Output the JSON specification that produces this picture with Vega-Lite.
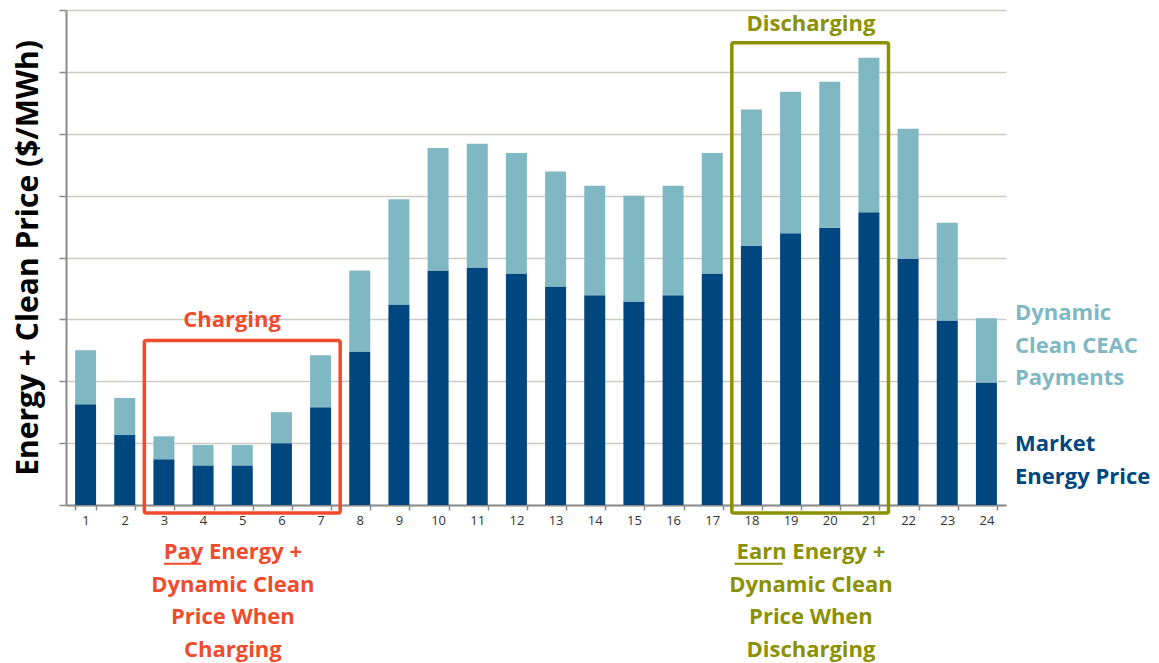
{
  "$schema": "https://vega.github.io/schema/vega-lite/v6.json",
  "autosize": "none",
  "width": 940,
  "height": 495,
  "padding": {"left": 66, "top": 10, "right": 153, "bottom": 158},
  "background": "white",
  "config": {
    "view": {"stroke": null},
    "font": "Open Sans",
    "text": {"font": "Open Sans"}
  },
  "datasets": {
    "bars": [
      {"hour": 1, "series": "Market Energy Price", "value": 1.63}, {"hour": 1, "series": "Dynamic Clean CEAC Payments", "value": 0.87},
      {"hour": 2, "series": "Market Energy Price", "value": 1.13}, {"hour": 2, "series": "Dynamic Clean CEAC Payments", "value": 0.60},
      {"hour": 3, "series": "Market Energy Price", "value": 0.74}, {"hour": 3, "series": "Dynamic Clean CEAC Payments", "value": 0.37},
      {"hour": 4, "series": "Market Energy Price", "value": 0.64}, {"hour": 4, "series": "Dynamic Clean CEAC Payments", "value": 0.33},
      {"hour": 5, "series": "Market Energy Price", "value": 0.64}, {"hour": 5, "series": "Dynamic Clean CEAC Payments", "value": 0.33},
      {"hour": 6, "series": "Market Energy Price", "value": 1.00}, {"hour": 6, "series": "Dynamic Clean CEAC Payments", "value": 0.50},
      {"hour": 7, "series": "Market Energy Price", "value": 1.58}, {"hour": 7, "series": "Dynamic Clean CEAC Payments", "value": 0.84},
      {"hour": 8, "series": "Market Energy Price", "value": 2.48}, {"hour": 8, "series": "Dynamic Clean CEAC Payments", "value": 1.31},
      {"hour": 9, "series": "Market Energy Price", "value": 3.24}, {"hour": 9, "series": "Dynamic Clean CEAC Payments", "value": 1.70},
      {"hour": 10, "series": "Market Energy Price", "value": 3.79}, {"hour": 10, "series": "Dynamic Clean CEAC Payments", "value": 1.98},
      {"hour": 11, "series": "Market Energy Price", "value": 3.84}, {"hour": 11, "series": "Dynamic Clean CEAC Payments", "value": 2.00},
      {"hour": 12, "series": "Market Energy Price", "value": 3.74}, {"hour": 12, "series": "Dynamic Clean CEAC Payments", "value": 1.95},
      {"hour": 13, "series": "Market Energy Price", "value": 3.53}, {"hour": 13, "series": "Dynamic Clean CEAC Payments", "value": 1.86},
      {"hour": 14, "series": "Market Energy Price", "value": 3.39}, {"hour": 14, "series": "Dynamic Clean CEAC Payments", "value": 1.77},
      {"hour": 15, "series": "Market Energy Price", "value": 3.29}, {"hour": 15, "series": "Dynamic Clean CEAC Payments", "value": 1.71},
      {"hour": 16, "series": "Market Energy Price", "value": 3.39}, {"hour": 16, "series": "Dynamic Clean CEAC Payments", "value": 1.77},
      {"hour": 17, "series": "Market Energy Price", "value": 3.74}, {"hour": 17, "series": "Dynamic Clean CEAC Payments", "value": 1.95},
      {"hour": 18, "series": "Market Energy Price", "value": 4.19}, {"hour": 18, "series": "Dynamic Clean CEAC Payments", "value": 2.20},
      {"hour": 19, "series": "Market Energy Price", "value": 4.39}, {"hour": 19, "series": "Dynamic Clean CEAC Payments", "value": 2.29},
      {"hour": 20, "series": "Market Energy Price", "value": 4.48}, {"hour": 20, "series": "Dynamic Clean CEAC Payments", "value": 2.36},
      {"hour": 21, "series": "Market Energy Price", "value": 4.73}, {"hour": 21, "series": "Dynamic Clean CEAC Payments", "value": 2.50},
      {"hour": 22, "series": "Market Energy Price", "value": 3.98}, {"hour": 22, "series": "Dynamic Clean CEAC Payments", "value": 2.10},
      {"hour": 23, "series": "Market Energy Price", "value": 2.98}, {"hour": 23, "series": "Dynamic Clean CEAC Payments", "value": 1.58},
      {"hour": 24, "series": "Market Energy Price", "value": 1.98}, {"hour": 24, "series": "Dynamic Clean CEAC Payments", "value": 1.04}
    ],
    "boxes": [
      {"phase": "Charging", "start": 2.5, "end": 7.5, "low": -0.13, "high": 2.66},
      {"phase": "Discharging", "start": 17.5, "end": 21.5, "low": -0.13, "high": 7.47}
    ],
    "labels": [
      {"phase": "Charging", "text": "Charging", "x": 4.74, "y": 2.99},
      {"phase": "Discharging", "text": "Discharging", "x": 19.52, "y": 7.77},
      {"phase": "Charging", "text": "Pay Energy +", "x": 4.76, "y": -0.76},
      {"phase": "Charging", "text": "Dynamic Clean", "x": 4.76, "y": -1.29},
      {"phase": "Charging", "text": "Price When", "x": 4.76, "y": -1.81},
      {"phase": "Charging", "text": "Charging", "x": 4.76, "y": -2.34},
      {"phase": "Discharging", "text": "Earn Energy +", "x": 19.52, "y": -0.76},
      {"phase": "Discharging", "text": "Dynamic Clean", "x": 19.52, "y": -1.29},
      {"phase": "Discharging", "text": "Price When", "x": 19.52, "y": -1.81},
      {"phase": "Discharging", "text": "Discharging", "x": 19.52, "y": -2.34}
    ],
    "legendText": [
      {"series": "Dynamic Clean CEAC Payments", "text": "Dynamic", "x": 24.73, "y": 3.10},
      {"series": "Dynamic Clean CEAC Payments", "text": "Clean CEAC", "x": 24.73, "y": 2.57},
      {"series": "Dynamic Clean CEAC Payments", "text": "Payments", "x": 24.73, "y": 2.05},
      {"series": "Market Energy Price", "text": "Market", "x": 24.73, "y": 0.99},
      {"series": "Market Energy Price", "text": "Energy Price", "x": 24.73, "y": 0.45}
    ],
    "underlines": [
      {"phase": "Charging", "start": 3.0, "end": 3.95, "y": -0.95},
      {"phase": "Discharging", "start": 17.57, "end": 18.8, "y": -0.95}
    ]
  },
  "layer": [
    {
      "data": {"name": "bars"},
      "mark": {"type": "bar"},
      "encoding": {
        "x": {
          "field": "hour", "type": "ordinal",
          "scale": {"paddingInner": 0.464, "paddingOuter": 0.232},
          "axis": {"title": null, "labelAngle": 0, "tickBand": "extent", "labelFontSize": 13, "labelColor": "#333333", "labelPadding": 4, "tickSize": 5, "tickColor": "#8a8a8a", "domainColor": "#8a8a8a", "domainWidth": 2, "tickWidth": 1.5, "grid": false, "labelFont": "Open Sans"}
        },
        "y": {
          "field": "value", "type": "quantitative", "stack": "zero",
          "scale": {"domain": [0, 8], "nice": false},
          "axis": {"values": [0, 1, 2, 3, 4, 5, 6, 7, 8], "labels": false, "tickSize": 7, "tickColor": "#8a8a8a", "tickWidth": 1.5, "domainColor": "#8a8a8a", "domainWidth": 2, "gridColor": "#cdcac4", "gridWidth": 1.5, "title": "Energy + Clean Price ($/MWh)", "titleFontSize": 30, "titleFont": "Open Sans", "titleFontWeight": "bold", "titleColor": "#000000", "titlePadding": 15}
        },
        "color": {
          "field": "series", "type": "nominal",
          "scale": {"domain": ["Market Energy Price", "Dynamic Clean CEAC Payments"], "range": ["#00477f", "#7fb8c2"]},
          "legend": null
        },
        "order": {"field": "series", "sort": "descending"}
      }
    },
    {
      "data": {"name": "boxes"},
      "mark": {"type": "rect", "filled": false, "strokeWidth": 3.5, "cornerRadius": 2},
      "encoding": {
        "x": {"field": "start", "type": "quantitative", "scale": {"domain": [0.5, 24.5], "nice": false, "zero": false}, "axis": null},
        "x2": {"field": "end"},
        "y": {"field": "low", "type": "quantitative"},
        "y2": {"field": "high"},
        "stroke": {"field": "phase", "type": "nominal", "scale": {"domain": ["Charging", "Discharging"], "range": ["#ef4b2c", "#8b9100"]}, "legend": null}
      }
    },
    {
      "data": {"name": "labels"},
      "mark": {"type": "text", "fontSize": 22, "fontWeight": "bold", "align": "center", "baseline": "middle"},
      "encoding": {
        "x": {"field": "x", "type": "quantitative", "scale": {"domain": [0.5, 24.5], "nice": false, "zero": false}, "axis": null},
        "y": {"field": "y", "type": "quantitative"},
        "text": {"field": "text"},
        "color": {"field": "phase", "type": "nominal", "scale": {"domain": ["Charging", "Discharging"], "range": ["#ef4b2c", "#8b9100"]}, "legend": null}
      }
    },
    {
      "data": {"name": "legendText"},
      "mark": {"type": "text", "fontSize": 22, "fontWeight": "bold", "align": "left", "baseline": "middle"},
      "encoding": {
        "x": {"field": "x", "type": "quantitative", "scale": {"domain": [0.5, 24.5], "nice": false, "zero": false}, "axis": null},
        "y": {"field": "y", "type": "quantitative"},
        "text": {"field": "text"},
        "color": {"field": "series", "type": "nominal", "scale": {"domain": ["Market Energy Price", "Dynamic Clean CEAC Payments"], "range": ["#00477f", "#7fb8c2"]}, "legend": null}
      }
    },
    {
      "data": {"name": "underlines"},
      "mark": {"type": "rule", "strokeWidth": 2},
      "encoding": {
        "x": {"field": "start", "type": "quantitative", "scale": {"domain": [0.5, 24.5], "nice": false, "zero": false}, "axis": null},
        "x2": {"field": "end"},
        "y": {"field": "y", "type": "quantitative"},
        "color": {"field": "phase", "type": "nominal", "scale": {"domain": ["Charging", "Discharging"], "range": ["#ef4b2c", "#8b9100"]}, "legend": null}
      }
    }
  ],
  "resolve": {"scale": {"x": "independent", "color": "independent", "stroke": "independent"}}
}
